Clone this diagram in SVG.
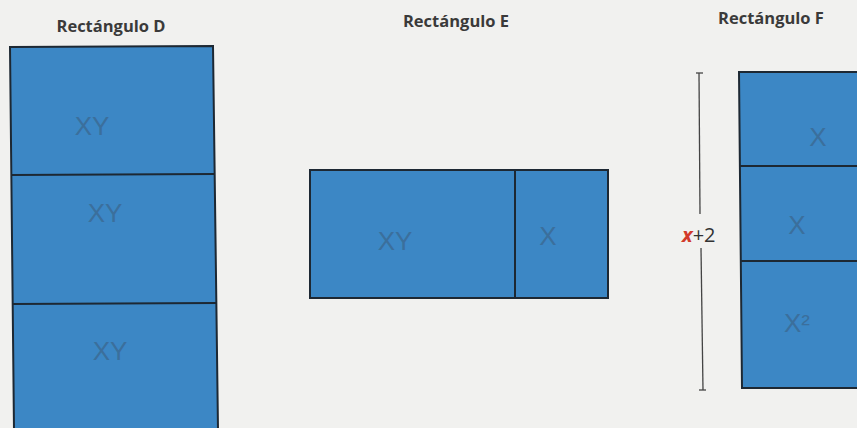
<svg xmlns="http://www.w3.org/2000/svg" width="857" height="428" viewBox="0 0 857 428">
<style>
.title{font-family:"Open Sans","Liberation Sans",sans-serif;font-weight:bold;font-size:16.5px;fill:#3a3a3a;text-anchor:middle}
.box{fill:#3c87c5;stroke:#1d2833;stroke-width:2}
.div{stroke:#1d2833;stroke-width:2}
.hand{font-family:"Liberation Sans",sans-serif;font-size:26px;fill:#3a4c60;opacity:0.4;text-anchor:middle}
.dim{stroke:#444;stroke-width:1.3}
</style>
<rect width="857" height="428" fill="#f1f1ef"/>
<g id="rect-D">
<text class="title" x="111" y="32">Rectángulo D</text>
<polygon class="box" points="10,47 213,46 218,430 14,430"/>
<line class="div" x1="11" y1="175" x2="214" y2="174"/>
<line class="div" x1="13" y1="304" x2="216" y2="303"/>
<text class="hand" x="92" y="135">XY</text>
<text class="hand" x="105" y="222">XY</text>
<text class="hand" x="110" y="360">XY</text>
</g>
<g id="rect-E">
<text class="title" x="456" y="27">Rectángulo E</text>
<rect class="box" x="310" y="170" width="298" height="128"/>
<line class="div" x1="515" y1="170" x2="515" y2="298"/>
<text class="hand" x="395" y="250">XY</text>
<text class="hand" x="548" y="245">X</text>
</g>
<g id="rect-F">
<text class="title" x="771" y="24">Rectángulo F</text>
<polygon class="box" points="739,72 860,72 860,388 742,388"/>
<line class="div" x1="740" y1="166" x2="860" y2="166"/>
<line class="div" x1="741" y1="261" x2="860" y2="261"/>
<text class="hand" x="818" y="146">X</text>
<text class="hand" x="797" y="234">X</text>
<text class="hand" x="797" y="332">X²</text>
</g>
<g id="connectors">
<line class="dim" x1="699" y1="73" x2="700" y2="214"/>
<line class="dim" x1="701" y1="248" x2="703" y2="390"/>
<line class="dim" x1="696" y1="73" x2="703" y2="73"/>
<line class="dim" x1="699" y1="390" x2="706" y2="390"/>
<text x="682" y="242" font-family="'Open Sans','Liberation Sans',sans-serif" font-size="20" fill="#333"><tspan fill="#d23a2a" font-weight="bold" font-style="italic">x</tspan>+2</text>
</g>
</svg>
